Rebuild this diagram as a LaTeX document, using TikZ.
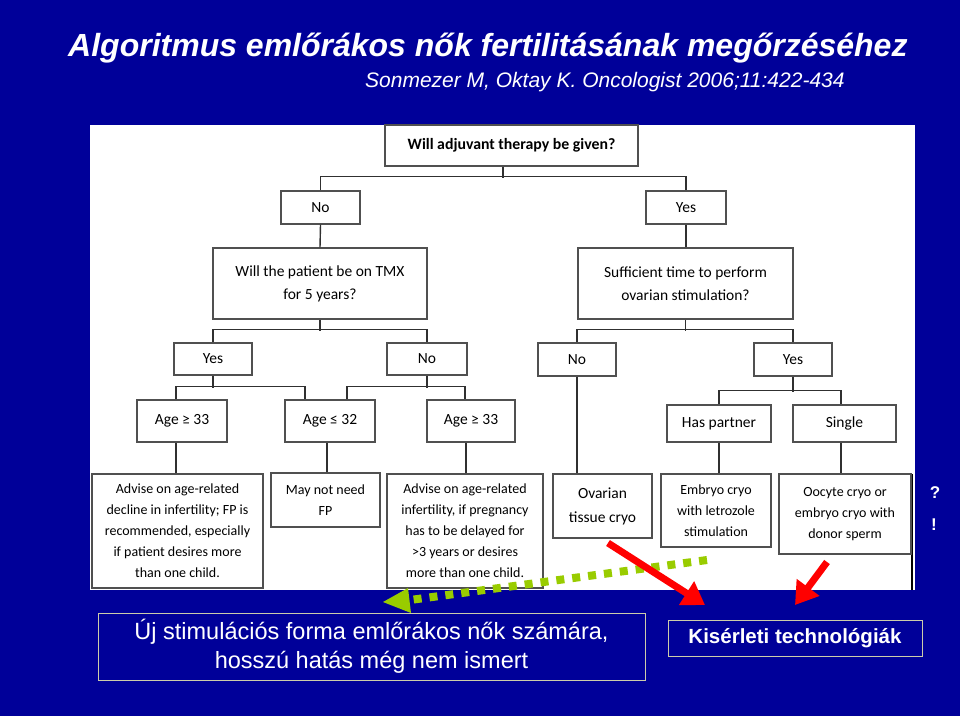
\documentclass[tikz,border=0pt]{standalone}
\usepackage{fontspec}
\setmainfont{Liberation Sans}
\newfontfamily\calfont{Carlito}
\usetikzlibrary{arrows.meta,calc}
\definecolor{slideblue}{HTML}{000099}
\definecolor{boxgray}{HTML}{505050}
\definecolor{linegray}{HTML}{303030}
\definecolor{arrowgreen}{HTML}{99CC00}
\definecolor{framegray}{HTML}{CCCCAA}
\tikzset{
  fbox/.style={draw=boxgray, line width=1.4pt, fill=white, inner sep=0pt, align=center, text=black},
  lbl/.style={fbox, font=\calfont\fontsize{15.5}{23}\selectfont},
  small/.style={fbox, font=\calfont\fontsize{14}{21}\selectfont},
  conn/.style={draw=linegray, line width=1.4pt},
  redarrow/.style={draw=red, line width=7pt, -{Triangle[length=22pt,width=27pt]}},
  greenarrow/.style={draw=arrowgreen, line width=8pt, dash pattern=on 8pt off 8pt},
  notebox/.style={draw=framegray, line width=0.9pt, fill=slideblue, text=white, inner sep=0pt, align=center}
}
\begin{document}
\begin{tikzpicture}[x=1pt,y=-1pt]
\fill[slideblue] (0,0) rectangle (960,716);
\useasboundingbox (0,0) rectangle (960,716);
% title
\node[anchor=base west, text=white, inner sep=0pt, font=\fontsize{32}{36}\selectfont\bfseries\itshape] (title) at (68,56) {Algoritmus emlőrákos nők fertilitásának megőrzéséhez};
\node[anchor=base west, text=white, inner sep=0pt, font=\fontsize{21}{24}\selectfont\itshape] (sub) at (365,87) {Sonmezer M, Oktay K. Oncologist 2006;11:422-434};
% white panel
\fill[white] (90,125) rectangle (915,590);
\draw[black, line width=1.2pt] (912,474) -- (912,590);
% level 1
\node[fbox, minimum width=253pt, minimum height=41pt, font=\calfont\bfseries\fontsize{15.8}{18}\selectfont] (top) at (511.5,145.5) {Will adjuvant therapy be given?};
\node[lbl, minimum width=79pt, minimum height=33pt] (no1) at (320.5,207.5) {No};
\node[lbl, minimum width=80pt, minimum height=33pt] (yes1) at (686,207.5) {Yes};
\node[lbl, minimum width=214pt, minimum height=71pt] (tmx) at (320,283.5) {Will the patient be on TMX\\for 5 years?};
\node[lbl, minimum width=215pt, minimum height=71pt] (suff) at (685.5,283.5) {Sufficient time to perform\\ovarian stimulation?};
% level 3
\node[lbl, minimum width=78pt, minimum height=32pt] (yes2) at (213,359) {Yes};
\node[lbl, minimum width=80pt, minimum height=32pt] (no2) at (427,359) {No};
\node[lbl, minimum width=78pt, minimum height=33pt] (no3) at (577,359.5) {No};
\node[lbl, minimum width=78pt, minimum height=33pt] (yes3) at (793,359.5) {Yes};
% level 4
\node[lbl, minimum width=90pt, minimum height=42pt] (age1) at (182,421) {Age ≥ 33};
\node[lbl, minimum width=90pt, minimum height=42pt] (age2) at (330,421) {Age ≤ 32};
\node[lbl, minimum width=88pt, minimum height=42pt] (age3) at (471,421) {Age ≥ 33};
\node[lbl, minimum width=104pt, minimum height=37pt] (partner) at (719,423.5) {Has partner};
\node[lbl, minimum width=103pt, minimum height=37pt] (single) at (844.5,423.5) {Single};
% bottom boxes
\node[small, minimum width=171pt, minimum height=114pt] (b1) at (177.5,531) {Advise on age-related\\decline in infertility; FP is\\recommended, especially\\if patient desires more\\than one child.};
\node[small, minimum width=109pt, minimum height=54pt] (b2) at (325.5,500) {May not need\\FP};
\node[small, minimum width=156pt, minimum height=114pt] (b3) at (465,531) {Advise on age-related\\infertility, if pregnancy\\has to be delayed for\\>3 years or desires\\more than one child.};
\node[lbl, font=\calfont\fontsize{15.5}{24}\selectfont, minimum width=99pt, minimum height=64pt] (b4) at (602.5,506) {Ovarian\\tissue cryo};
\node[small, minimum width=110pt, minimum height=73pt] (b5) at (716,510.5) {Embryo cryo\\with letrozole\\stimulation};
\node[small, minimum width=132pt, minimum height=80pt] (b6) at (845,514) {Oocyte cryo or\\embryo cryo with\\donor sperm};
% connectors
\draw[conn] ([xshift=-8.5pt]top.south) -- ++(0,11);
\draw[conn] (no1.north) -- ++(0,-14) -| (yes1.north);
\draw[conn] (no1.south) -- (tmx.north);
\draw[conn] (yes1.south) -- (yes1.south |- suff.north);
\draw[conn] (tmx.south) -- ++(0,11);
\draw[conn] (yes2.north) -- ++(0,-13) -| (no2.north);
\draw[conn] (suff.south) -- ++(0,11);
\draw[conn] (no3.north) -- ++(0,-13) -| (yes3.north);
\draw[conn] (yes2.south) -- ++(0,12);
\draw[conn] ([xshift=-6pt]age1.north) -- ++(0,-13) -| ([xshift=-25pt]age2.north);
\draw[conn] (no2.south) -- ++(0,12);
\draw[conn] ([xshift=17pt]age2.north) -- ++(0,-13) -| ([xshift=-6pt]age3.north);
\draw[conn] (yes3.south) -- ++(0,15);
\draw[conn] (partner.north) -- ++(0,-14) -| ([xshift=-3.5pt]single.north);
\draw[conn] ([xshift=-1.5pt]b1.north) -- ([xshift=-1.5pt]b1.north |- age1.south);
\draw[conn] ([xshift=1.5pt]b2.north) -- ([xshift=1.5pt]b2.north |- age2.south);
\draw[conn] ([xshift=1pt]b3.north) -- ([xshift=1pt]b3.north |- age3.south);
\draw[conn] (no3.south) -- (no3.south |- b4.north);
\draw[conn] (partner.south) -- (partner.south |- b5.north);
\draw[conn] ([xshift=-3.5pt]single.south) -- ([xshift=-3.5pt]single.south |- b6.north);
% side marks
\node[text=white, font=\bfseries\fontsize{17}{20}\selectfont, inner sep=0pt] (q) at (935,493) {?};
\node[text=white, font=\bfseries\fontsize{17}{20}\selectfont, inner sep=0pt] (ex) at (934,525) {!};
% note boxes
\node[notebox, minimum width=547pt, minimum height=67pt, font=\fontsize{23.5}{29}\selectfont] (noteA) at (371.5,646.5) {Új stimulációs forma emlőrákos nők számára,\\hosszú hatás még nem ismert};
\node[notebox, minimum width=254pt, minimum height=36pt, font=\bfseries\fontsize{20.5}{24}\selectfont] (noteB) at (795,638) {Kisérleti technológiák};
% green dotted arrow
\coordinate (gs) at (707,560);
\coordinate (gm) at (410,600);
\coordinate (ge) at (383,602);
\draw[greenarrow] (gs) -- (gm);
\fill[arrowgreen] (ge) -- ($(gm)+(-2,-12)$) -- ($(gm)+(1,13)$) -- cycle;
% red arrows
\coordinate (r1s) at (608,543);
\coordinate (r1e) at (705,605);
\coordinate (r2s) at (827,562);
\coordinate (r2e) at (795,605);
\draw[redarrow] (r1s) -- (r1e);
\draw[redarrow] (r2s) -- (r2e);
\end{tikzpicture}
\end{document}
